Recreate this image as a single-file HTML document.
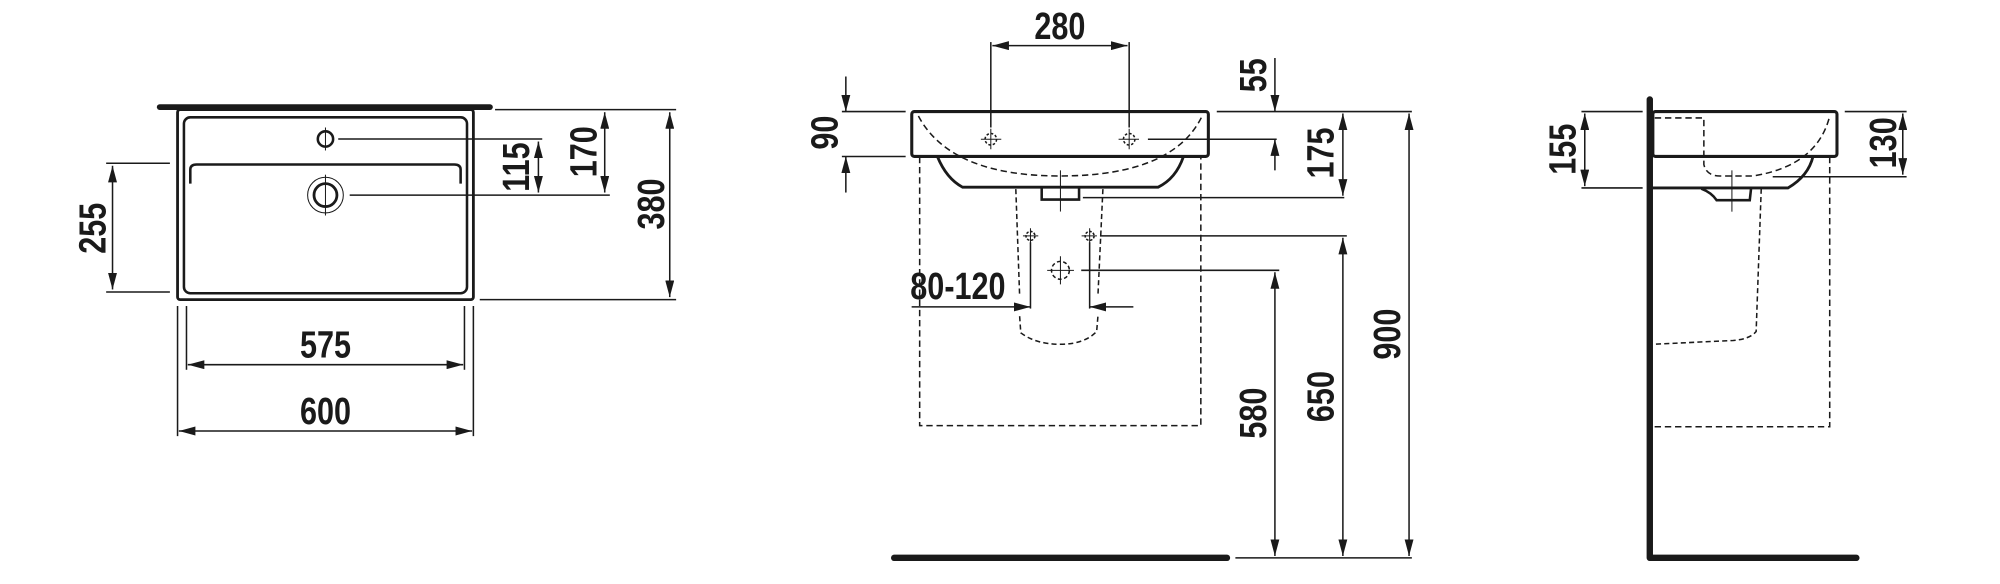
<!DOCTYPE html>
<html><head><meta charset="utf-8"><style>
html,body{margin:0;padding:0;background:#fff}
svg{display:block}
text{font-family:"Liberation Sans Narrow","Liberation Sans",sans-serif;font-weight:bold;font-size:30px;fill:#1a1a1a;text-anchor:middle;dominant-baseline:central}
</style></head><body>
<svg width="2000" height="584" viewBox="0 0 1568 458" xmlns="http://www.w3.org/2000/svg">
<defs>
<marker id="a" viewBox="0 0 13 7" refX="13" refY="3.5" markerWidth="13" markerHeight="7" markerUnits="userSpaceOnUse" orient="auto-start-reverse"><path d="M0,0L13,3.5L0,7z" fill="#1a1a1a"/></marker>
</defs>
<g fill="none" stroke="#1a1a1a" stroke-width="1.2">
<!-- LEFT VIEW -->
<line x1="125" y1="84" x2="384" y2="84" stroke-width="4.5" stroke-linecap="round"/>
<rect x="139" y="86" width="232" height="149" rx="2" stroke-width="2.2"/>
<rect x="144" y="92" width="222" height="138" rx="5" stroke-width="2"/>
<path d="M149,144 V133 Q149,129 154,129 H356 Q361,129 361,133 V144" stroke-width="2"/>
<circle cx="255" cy="109" r="6" stroke-width="2"/>
<line x1="255" y1="100" x2="255" y2="118" stroke-width="0.8"/>
<circle cx="255" cy="153" r="14" stroke-width="0.8"/>
<circle cx="255" cy="153" r="9" stroke-width="2.2"/>
<line x1="255" y1="137" x2="255" y2="169" stroke-width="0.8"/>
<line x1="265" y1="109" x2="425" y2="109"/>
<line x1="274" y1="153" x2="478" y2="153"/>
<line x1="422" y1="111" x2="422" y2="151" marker-start="url(#a)" marker-end="url(#a)"/>
<line x1="474" y1="88" x2="474" y2="151" marker-start="url(#a)" marker-end="url(#a)"/>
<line x1="388" y1="86" x2="530" y2="86"/>
<line x1="376" y1="235" x2="530" y2="235"/>
<line x1="525" y1="88" x2="525" y2="233" marker-start="url(#a)" marker-end="url(#a)"/>
<line x1="83" y1="128" x2="133" y2="128"/>
<line x1="83" y1="229" x2="133" y2="229"/>
<line x1="88" y1="130" x2="88" y2="227" marker-start="url(#a)" marker-end="url(#a)"/>
<line x1="146" y1="240" x2="146" y2="290"/>
<line x1="364" y1="240" x2="364" y2="290"/>
<line x1="147" y1="286" x2="363" y2="286" marker-start="url(#a)" marker-end="url(#a)"/>
<line x1="139" y1="240" x2="139" y2="342"/>
<line x1="371" y1="240" x2="371" y2="342"/>
<line x1="140" y1="338" x2="370" y2="338" marker-start="url(#a)" marker-end="url(#a)"/>

<!-- MIDDLE VIEW -->
<rect x="714.8" y="87.5" width="232.6" height="35.2" rx="2" stroke-width="2.4"/>
<path d="M735,123 Q742,140 754.6,146.8 H908 Q922,140 927.8,123" stroke-width="2.2"/>
<path d="M816.7,146.8 V156.5 H846 V146.8" stroke-width="2"/>
<path d="M720,91 Q745,138 831,138 Q920,138 942.5,91" stroke-dasharray="5,3"/>
<line x1="831.4" y1="133.6" x2="831.4" y2="165.9" stroke-width="0.8"/>
<circle cx="776.8" cy="109.2" r="4.5" stroke-dasharray="2,1.5"/>
<circle cx="885.3" cy="109.2" r="4.5" stroke-dasharray="2,1.5"/>
<path d="M769,109.2H785M776.8,101V117M877,109.2H893M885.3,101V117" stroke-width="0.8"/>
<line x1="776.8" y1="33" x2="776.8" y2="100"/>
<line x1="885.3" y1="33" x2="885.3" y2="100"/>
<line x1="778" y1="35.8" x2="884" y2="35.8" marker-start="url(#a)" marker-end="url(#a)"/>
<line x1="660" y1="87.5" x2="710" y2="87.5"/>
<line x1="660" y1="122.7" x2="710" y2="122.7"/>
<line x1="663.1" y1="60" x2="663.1" y2="87.5" marker-end="url(#a)"/>
<line x1="663.1" y1="151" x2="663.1" y2="122.7" marker-end="url(#a)"/>
<line x1="954" y1="87.5" x2="1107" y2="87.5"/>
<line x1="900" y1="109.2" x2="1001" y2="109.2"/>
<line x1="999.6" y1="45.5" x2="999.6" y2="87.5" marker-end="url(#a)"/>
<line x1="999.6" y1="133.6" x2="999.6" y2="109.2" marker-end="url(#a)"/>
<line x1="849" y1="155" x2="1054" y2="155"/>
<line x1="1052.9" y1="89" x2="1052.9" y2="153.5" marker-start="url(#a)" marker-end="url(#a)"/>
<line x1="862.4" y1="185" x2="1056" y2="185"/>
<line x1="1052.9" y1="186.5" x2="1052.9" y2="436" marker-start="url(#a)" marker-end="url(#a)"/>
<line x1="847.7" y1="212" x2="1003" y2="212"/>
<line x1="999.6" y1="213.5" x2="999.6" y2="436" marker-start="url(#a)" marker-end="url(#a)"/>
<line x1="1104.8" y1="89" x2="1104.8" y2="436" marker-start="url(#a)" marker-end="url(#a)"/>
<line x1="701" y1="437.5" x2="962" y2="437.5" stroke-width="5" stroke-linecap="round"/>
<line x1="968.6" y1="437.5" x2="1107" y2="437.5"/>
<path d="M721,123 V333.8 H941.5 V123" stroke-dasharray="5,3"/>
<path d="M796.4,148.3 L799.4,232 M864.7,148.3 L860.8,232" stroke-dasharray="4,2.5"/>
<path d="M799.4,248 L800.3,261 Q812,270 831.4,270 Q850,270 859.8,260 L860.8,248" stroke-dasharray="4,2.5"/>
<circle cx="807.9" cy="185" r="3.5" stroke-dasharray="2,1.2"/>
<circle cx="854.3" cy="185" r="3.5" stroke-dasharray="2,1.2"/>
<circle cx="831.4" cy="212" r="7" stroke-dasharray="3,2"/>
<path d="M802,185H814M807.9,179V191M848,185H860M854.3,179V191M821,212H842M831.4,201V223" stroke-width="0.8"/>
<line x1="807.9" y1="190" x2="807.9" y2="242"/>
<line x1="854.3" y1="190" x2="854.3" y2="242"/>
<line x1="714.7" y1="240.7" x2="807.9" y2="240.7" marker-end="url(#a)"/>
<line x1="888.6" y1="240.7" x2="854.3" y2="240.7" marker-end="url(#a)"/>

<!-- RIGHT VIEW -->
<path d="M1293.6,78 V437.5 H1455.6" stroke-width="5" stroke-linecap="round" stroke-linejoin="round"/>
<rect x="1296" y="87.5" width="144.4" height="35.2" rx="2" stroke-width="2.4"/>
<path d="M1296,147.4 H1402 Q1418,138 1421.6,122.7" stroke-width="2.2"/>
<path d="M1334,148 Q1342,151 1346,157 H1372 L1373,148" stroke-width="2"/>
<line x1="1358" y1="133.6" x2="1358" y2="166" stroke-width="0.8"/>
<path d="M1297.5,92.5 H1336 V129 Q1338,138 1348.5,138 H1374.6 Q1425,130 1434.7,91" stroke-dasharray="5,3"/>
<path d="M1381,148 L1377,260 Q1372,266 1359,267 L1296,270" stroke-dasharray="4,2.5"/>
<path d="M1434.7,123 V334.7 H1296" stroke-dasharray="5,3"/>
<line x1="1240" y1="87.5" x2="1288" y2="87.5"/>
<line x1="1240" y1="147.4" x2="1288" y2="147.4"/>
<line x1="1242.6" y1="89" x2="1242.6" y2="146" marker-start="url(#a)" marker-end="url(#a)"/>
<line x1="1446.5" y1="87.5" x2="1495" y2="87.5"/>
<line x1="1390" y1="138.6" x2="1495" y2="138.6"/>
<line x1="1492" y1="89" x2="1492" y2="137" marker-start="url(#a)" marker-end="url(#a)"/>
</g>
<g>
<text transform="translate(255,271) scale(0.8,1)">575</text>
<text transform="translate(255,323) scale(0.8,1)">600</text>
<text transform="translate(73,179) rotate(-90) scale(0.8,1)">255</text>
<text transform="translate(405,131) rotate(-90) scale(0.8,1)">115</text>
<text transform="translate(458,119) rotate(-90) scale(0.8,1)">170</text>
<text transform="translate(511,160) rotate(-90) scale(0.8,1)">380</text>
<text transform="translate(831,21) scale(0.8,1)">280</text>
<text transform="translate(751,225) scale(0.8,1)">80-120</text>
<text transform="translate(647,104) rotate(-90) scale(0.8,1)">90</text>
<text transform="translate(983,59) rotate(-90) scale(0.8,1)">55</text>
<text transform="translate(1036,120) rotate(-90) scale(0.8,1)">175</text>
<text transform="translate(1036,311) rotate(-90) scale(0.8,1)">650</text>
<text transform="translate(983,324) rotate(-90) scale(0.8,1)">580</text>
<text transform="translate(1088,262) rotate(-90) scale(0.8,1)">900</text>
<text transform="translate(1226,117) rotate(-90) scale(0.8,1)">155</text>
<text transform="translate(1477,112) rotate(-90) scale(0.8,1)">130</text>
</g>
</svg>
</body></html>
